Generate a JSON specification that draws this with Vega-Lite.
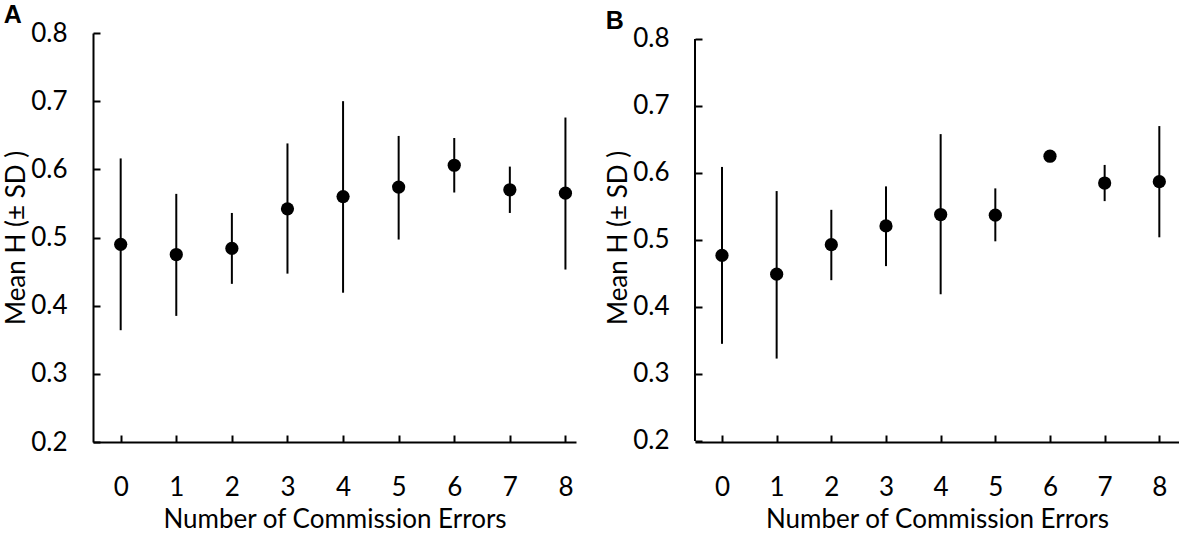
{
  "$schema": "https://vega.github.io/schema/vega-lite/v6.json",
  "padding": {"left": 3, "top": 3, "right": 0, "bottom": 0},
  "background": "white",
  "datasets": {
    "panelA": [
      {"errors": 0, "mean": 0.490, "lo": 0.364, "hi": 0.616},
      {"errors": 1, "mean": 0.475, "lo": 0.385, "hi": 0.564},
      {"errors": 2, "mean": 0.484, "lo": 0.432, "hi": 0.536},
      {"errors": 3, "mean": 0.542, "lo": 0.447, "hi": 0.638},
      {"errors": 4, "mean": 0.560, "lo": 0.419, "hi": 0.700},
      {"errors": 5, "mean": 0.574, "lo": 0.497, "hi": 0.649},
      {"errors": 6, "mean": 0.606, "lo": 0.566, "hi": 0.646},
      {"errors": 7, "mean": 0.570, "lo": 0.536, "hi": 0.604},
      {"errors": 8, "mean": 0.565, "lo": 0.453, "hi": 0.676}
    ],
    "panelB": [
      {"errors": 0, "mean": 0.477, "lo": 0.345, "hi": 0.609},
      {"errors": 1, "mean": 0.449, "lo": 0.323, "hi": 0.573},
      {"errors": 2, "mean": 0.493, "lo": 0.440, "hi": 0.545},
      {"errors": 3, "mean": 0.521, "lo": 0.461, "hi": 0.580},
      {"errors": 4, "mean": 0.538, "lo": 0.419, "hi": 0.658},
      {"errors": 5, "mean": 0.537, "lo": 0.498, "hi": 0.577},
      {"errors": 6, "mean": 0.625, "lo": 0.618, "hi": 0.632},
      {"errors": 7, "mean": 0.585, "lo": 0.558, "hi": 0.612},
      {"errors": 8, "mean": 0.587, "lo": 0.504, "hi": 0.670}
    ],
    "axisline": [{"x": -0.4936, "y": 0.2, "y2": 0.8}]
  },
  "config": {
    "view": {"stroke": null},
    "font": "Lato",
    "axis": {
      "grid": false,
      "domainColor": "black",
      "domainWidth": 2,
      "tickColor": "black",
      "tickWidth": 2,
      "tickSize": -7,
      "labelFont": "Lato",
      "labelFontSize": 26,
      "labelColor": "black",
      "titleFont": "Lato",
      "titleFontSize": 26,
      "titleFontWeight": "normal",
      "titleColor": "black"
    },
    "axisX": {"labelPadding": 39, "titlePadding": 6},
    "axisY": {"labelPadding": 33, "titlePadding": 1},
    "title": {
      "font": "Liberation Sans",
      "fontSize": 25,
      "fontWeight": "bold",
      "color": "black",
      "anchor": "start",
      "frame": "bounds",
      "offset": 2,
      "dy": 10
    }
  },
  "bounds": "flush",
  "spacing": 119,
  "hconcat": [
    {
      "title": "A",
      "width": 483,
      "height": 409,
      "data": {"name": "panelA"},
      "encoding": {
        "x": {
          "field": "errors",
          "type": "quantitative",
          "title": "Number of Commission Errors",
          "scale": {"domain": [-0.498, 8.19], "nice": false, "zero": false},
          "axis": {"values": [0, 1, 2, 3, 4, 5, 6, 7, 8], "format": "d"}
        }
      },
      "layer": [
        {
          "mark": {"type": "rule", "color": "black", "strokeWidth": 2},
          "encoding": {
            "y": {
              "field": "lo",
              "type": "quantitative",
              "title": "Mean H (± SD )",
              "scale": {"domain": [0.2, 0.8], "nice": false, "zero": false},
              "axis": {"values": [0.2, 0.3, 0.4, 0.5, 0.6, 0.7, 0.8], "format": ".1f"}
            },
            "y2": {"field": "hi"}
          }
        },
        {
          "mark": {"type": "point", "filled": true, "color": "black", "opacity": 1, "size": 175},
          "encoding": {"y": {"field": "mean", "type": "quantitative"}}
        }
      ]
    },
    {
      "title": "B",
      "width": 484,
      "height": 409,
      "layer": [
        {
          "data": {"name": "panelB"},
          "mark": {"type": "rule", "color": "black", "strokeWidth": 2},
          "encoding": {
            "x": {
              "field": "errors",
              "type": "quantitative",
              "title": "Number of Commission Errors",
              "scale": {"domain": [-0.4936, 8.36], "nice": false, "zero": false},
              "axis": {"values": [0, 1, 2, 3, 4, 5, 6, 7, 8], "format": "d"}
            },
            "y": {
              "field": "lo",
              "type": "quantitative",
              "title": "Mean H (± SD )",
              "scale": {"domain": [0.1985, 0.8089], "nice": false, "zero": false},
              "axis": {"values": [0.2, 0.3, 0.4, 0.5, 0.6, 0.7, 0.8], "format": ".1f", "domain": false}
            },
            "y2": {"field": "hi"}
          }
        },
        {
          "data": {"name": "panelB"},
          "mark": {"type": "point", "filled": true, "color": "black", "opacity": 1, "size": 175},
          "encoding": {
            "x": {"field": "errors", "type": "quantitative"},
            "y": {"field": "mean", "type": "quantitative"}
          }
        },
        {
          "data": {"name": "axisline"},
          "mark": {"type": "rule", "color": "black", "strokeWidth": 2},
          "encoding": {
            "x": {"field": "x", "type": "quantitative"},
            "y": {"field": "y", "type": "quantitative"},
            "y2": {"field": "y2"}
          }
        }
      ]
    }
  ]
}
